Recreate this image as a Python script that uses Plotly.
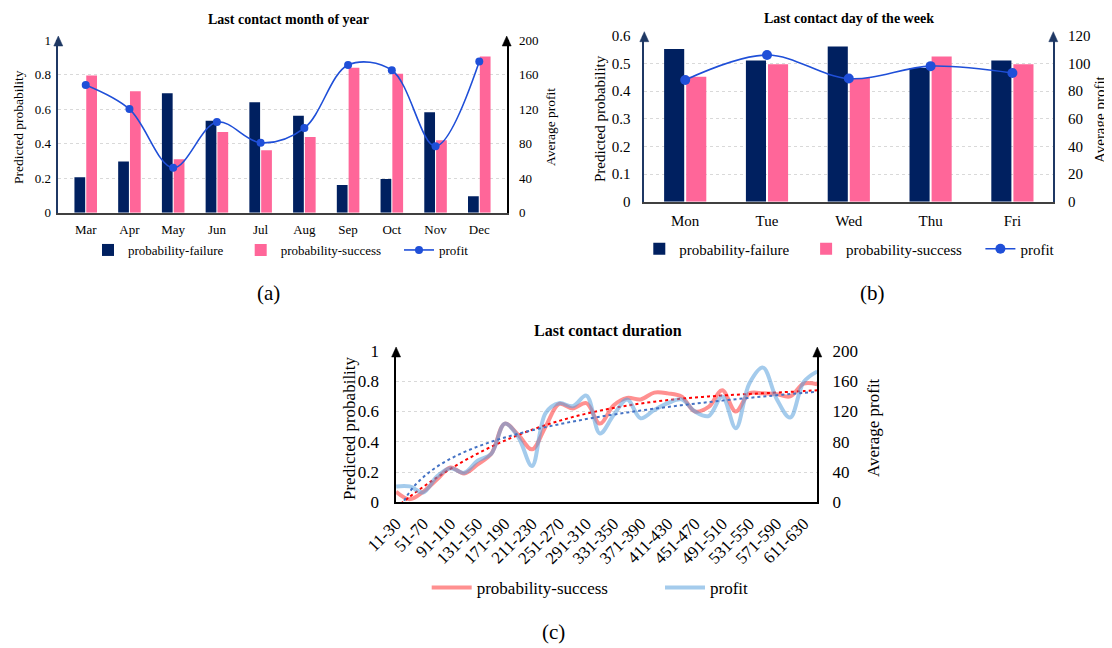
import numpy as np
import plotly.graph_objects as go

# ---------------- data ----------------
months = ["Mar", "Apr", "May", "Jun", "Jul", "Aug", "Sep", "Oct", "Nov", "Dec"]
month_failure = [0.205, 0.297, 0.691, 0.533, 0.639, 0.561, 0.160, 0.195, 0.581, 0.095]
month_success = [0.795, 0.703, 0.309, 0.467, 0.361, 0.439, 0.840, 0.805, 0.419, 0.905]
month_profit = [148, 120, 52, 105, 81, 98, 171, 165, 77, 175]

days = ["Mon", "Tue", "Wed", "Thu", "Fri"]
day_failure = [0.552, 0.510, 0.561, 0.483, 0.510]
day_success = [0.452, 0.497, 0.447, 0.525, 0.497]
day_profit = [88, 106, 89, 98, 93]

durations = ["11-30", "31-50", "51-70", "71-90", "91-110", "111-130", "131-150", "151-170",
             "171-190", "191-210", "211-230", "231-250", "251-270", "271-290", "291-310", "311-330",
             "331-350", "351-370", "371-390", "391-410", "411-430", "431-450", "451-470", "471-490",
             "491-510", "511-530", "531-550", "551-570", "571-590", "591-610", "611-630", "631-650"]
duration_success = [0.07, 0.02, 0.07, 0.15, 0.23, 0.19, 0.25, 0.32,
                    0.52, 0.445, 0.35, 0.50, 0.65, 0.62, 0.655, 0.52,
                    0.64, 0.69, 0.68, 0.725, 0.72, 0.70, 0.60, 0.63,
                    0.74, 0.60, 0.72, 0.72, 0.715, 0.70, 0.785, 0.78]
duration_profit = [21, 21, 13, 34, 45, 39, 55, 64,
                   104, 86, 48, 118, 131, 127, 141, 91,
                   115, 136, 111, 122, 131, 136, 120, 114,
                   140, 98, 157, 178, 137, 112, 159, 173]

# trendlines fitted from the data (poly-3 for probability, log for profit)
xi = np.arange(1, len(durations) + 1)
trend_success = np.polyval(np.polyfit(xi, duration_success, 3), xi)
trend_profit = np.polyval(np.polyfit(np.log(xi), duration_profit, 1), np.log(xi))

# ---------------- styling helpers ----------------
# the page body keeps an 8px margin, so the figure is sized and placed to compensate
OFF = 8
W, H = 1112 - OFF, 648 - OFF
def px(x):
    return (x - OFF) / W
def py(y):
    return 1 - (y - OFF) / H

FONT = "Liberation Serif, Times New Roman, Times, serif"
NAVY = "#002060"
PINK = "#FF6699"
LBLUE = "#1F4FD8"
AXNAVY = "#1F3864"
GRID = "#D9D9D9"

A_X, A_Y = (58.3, 506.7), (40.0, 212.7)
B_X, B_Y = (644.3, 1053.3), (35.7, 201.7)
C_X, C_Y = (396.1, 817.3), (351.0, 502.3)

fig = go.Figure()

# ---- panel (a)
fig.add_trace(go.Bar(x=months, y=month_failure, name="probability-failure", marker=dict(color=NAVY, line=dict(width=0)),
                     xaxis="x", yaxis="y", legend="legend"))
fig.add_trace(go.Bar(x=months, y=month_success, name="probability-success", marker=dict(color=PINK, line=dict(width=0)),
                     xaxis="x", yaxis="y", legend="legend2"))
fig.add_trace(go.Scatter(x=months, y=month_profit, name="profit", mode="lines+markers",
                         line=dict(color=LBLUE, width=1.6, shape="spline", smoothing=1.0),
                         marker=dict(color=LBLUE, size=8), xaxis="x", yaxis="y2", legend="legend3"))

# ---- panel (b)
fig.add_trace(go.Bar(x=days, y=day_failure, name="probability-failure", marker=dict(color=NAVY, line=dict(width=0)),
                     xaxis="x2", yaxis="y3", legend="legend4"))
fig.add_trace(go.Bar(x=days, y=day_success, name="probability-success", marker=dict(color=PINK, line=dict(width=0)),
                     xaxis="x2", yaxis="y3", legend="legend5"))
fig.add_trace(go.Scatter(x=days, y=day_profit, name="profit", mode="lines+markers",
                         line=dict(color=LBLUE, width=1.6, shape="spline", smoothing=1.0),
                         marker=dict(color=LBLUE, size=10), xaxis="x2", yaxis="y4", legend="legend6"))

# ---- panel (c)
fig.add_trace(go.Scatter(x=durations, y=duration_success, name="probability-success", mode="lines",
                         line=dict(color="rgba(255,70,70,0.6)", width=4, shape="spline", smoothing=1.0),
                         xaxis="x3", yaxis="y5", legend="legend7"))
fig.add_trace(go.Scatter(x=durations, y=duration_profit, name="profit", mode="lines",
                         line=dict(color="rgba(90,160,220,0.55)", width=4, shape="spline", smoothing=1.0),
                         xaxis="x3", yaxis="y6", legend="legend8"))
fig.add_trace(go.Scatter(x=durations, y=trend_success, mode="lines", showlegend=False,
                         line=dict(color="#FF0000", width=2, dash="dot", shape="spline"),
                         xaxis="x3", yaxis="y5"))
fig.add_trace(go.Scatter(x=durations, y=trend_profit, mode="lines", showlegend=False,
                         line=dict(color="#4472C4", width=2, dash="dot", shape="spline"),
                         xaxis="x3", yaxis="y6"))

def xax(dom, anchor, size, color="#404040", **kw):
    d = dict(domain=[px(dom[0]), px(dom[1])], anchor=anchor, showline=True, linecolor=color, linewidth=1.5,
             showgrid=False, zeroline=False, ticks="", tickfont=dict(size=size, color="#000", family=FONT),
             fixedrange=True, automargin=False)
    d.update(kw)
    return d

def yax(dom, anchor, rng, dtick, size, color, standoff, **kw):
    d = dict(domain=[py(dom[1]), py(dom[0])], anchor=anchor, range=rng, dtick=dtick, showline=True,
             linecolor=color, linewidth=1.5, showgrid=True, gridcolor=GRID, griddash="dot", gridwidth=1,
             zeroline=False, ticks="", tickfont=dict(size=size, color="#000", family=FONT),
             ticklabelstandoff=standoff, fixedrange=True, automargin=False)
    d.update(kw)
    return d

def yax2(overlay, anchor, rng, dtick, size, color, standoff):
    return dict(overlaying=overlay, side="right", anchor=anchor, range=rng, dtick=dtick, showline=True,
                linecolor=color, linewidth=1.5, showgrid=False, zeroline=False, ticks="",
                tickfont=dict(size=size, color="#000", family=FONT), ticklabelstandoff=standoff,
                fixedrange=True, automargin=False)

def leg(x, y, size, itemwidth=30):
    return dict(x=px(x), y=py(y), xanchor="left", yanchor="middle", orientation="h",
                font=dict(size=size, color="#000", family=FONT), bgcolor="rgba(0,0,0,0)",
                itemwidth=itemwidth, borderwidth=0)

layout = dict(
    width=W, height=H, margin=dict(l=0, r=0, t=0, b=0, pad=0, autoexpand=False),
    template="none",
    paper_bgcolor="white", plot_bgcolor="rgba(0,0,0,0)",
    font=dict(family=FONT, color="#000"),
    barmode="group", bargap=0.46, bargroupgap=0.09,
    showlegend=True,
    xaxis=xax(A_X, "y", 13, ticklabelstandoff=4),
    yaxis=yax(A_Y, "x", [0, 1], 0.2, 13, AXNAVY, 3),
    yaxis2=yax2("y", "x", [0, 200], 40, 13, "#000", 8),
    xaxis2=xax(B_X, "y3", 15, ticklabelstandoff=5),
    yaxis3=yax(B_Y, "x2", [0, 0.6], 0.1, 15, AXNAVY, 9),
    yaxis4=yax2("y3", "x2", [0, 120], 20, 15, AXNAVY, 10),
    xaxis3=xax(C_X, "y5", 17, color="#000", tickangle=-45, tickvals=durations[::2],
               ticktext=durations[::2], ticklabelstandoff=3),
    yaxis5=yax(C_Y, "x3", [0, 1], 0.2, 17, "#000", 12),
    yaxis6=yax2("y5", "x3", [0, 200], 40, 17, "#000", 10),
    legend=leg(88, 250, 13),
    legend2=leg(240.7, 250, 13),
    legend3=leg(399, 250, 13),
    legend4=leg(639.3, 249, 15),
    legend5=leg(806.1, 249, 15),
    legend6=leg(980.4, 249, 15),
    legend7=leg(426.7, 588, 17, itemwidth=40),
    legend8=leg(660, 588, 17, itemwidth=40),
)
fig.update_layout(**layout)

# ---- annotations (titles, axis titles, captions)
def ann(text, x, y, size, bold=False, angle=0):
    fig.add_annotation(text=f"<b>{text}</b>" if bold else text, x=px(x), y=py(y), xref="paper", yref="paper",
                       showarrow=False, textangle=angle, xanchor="center", yanchor="middle",
                       font=dict(size=size, color="#000", family=FONT))

ann("Last contact month of year", 288, 19, 14, bold=True)
ann("Last contact day of the week", 849, 18, 14, bold=True)
ann("Last contact duration", 607.5, 330, 16, bold=True)
ann("Predicted probability", 19, 127, 13.5, angle=-90)
ann("Average profit", 551, 127, 13.5, angle=-90)
ann("Predicted probability", 600, 119, 15, angle=-90)
ann("Average profit", 1100, 119, 15, angle=-90)
ann("Predicted probability", 349, 428, 17, angle=-90)
ann("Average profit", 873, 428, 17, angle=-90)
ann("(a)", 268, 293, 21)
ann("(b)", 872, 293, 21)
ann("(c)", 553, 632, 21)

# ---- arrowheads at the top of the vertical axes
def arrow(xp, ytop, color):
    path = (f"M {px(xp)},{py(ytop - 4)} L {px(xp - 4.5)},{py(ytop + 6)} "
            f"L {px(xp + 4.5)},{py(ytop + 6)} Z")
    fig.add_shape(type="path", path=path, xref="paper", yref="paper", fillcolor=color,
                  line=dict(color=color, width=0.5), layer="above")

arrow(A_X[0], A_Y[0], AXNAVY)
arrow(A_X[1], A_Y[0], "#000")
arrow(B_X[0], B_Y[0], AXNAVY)
arrow(B_X[1], B_Y[0], AXNAVY)
arrow(C_X[0], C_Y[0], "#000")
arrow(C_X[1], C_Y[0], "#000")

fig.write_html("out.html")
